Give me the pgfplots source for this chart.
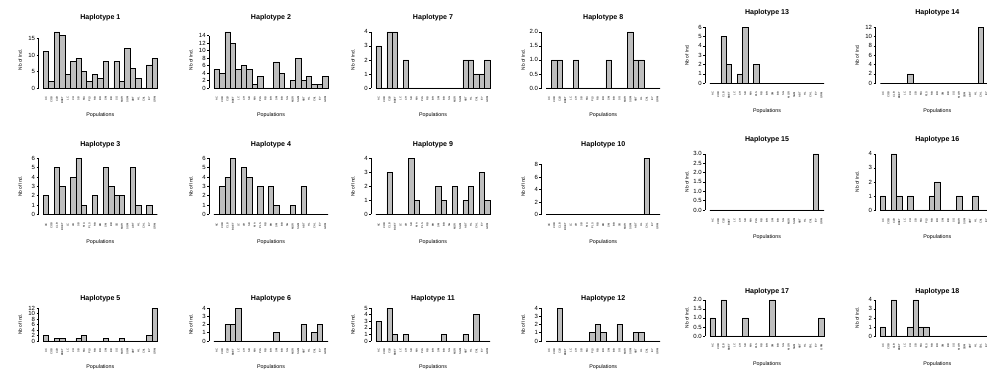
\documentclass[border=0pt]{standalone}
\usepackage{pgfplots}
\usepackage{pgfplotstable}
\pgfplotsset{compat=1.18}
\usepackage{fontspec}
\setmainfont{Liberation Sans}
\definecolor{bargray}{RGB}{190,190,190}

\pgfplotstableread{
pos h1 h2 h3 h4 h5 h6 h7 h8 h9 h10 h11 h12 h13 h14 h15 h16 h17 h18
1  11 5  2 0 2  0 3 0 0 0 3 0 0 0  0 1 1 1
2  2  4  0 3 0  0 0 1 0 0 0 0 0 0  0 0 0 0
3  17 15 5 4 1  2 4 1 3 0 5 4 5 0  0 4 2 4
4  16 12 3 6 1  2 4 0 0 0 1 0 2 0  0 1 0 0
5  4  5  0 0 0  4 0 0 0 0 0 0 0 0  0 0 0 0
6  8  6  4 5 0  0 2 1 0 0 1 0 1 2  0 1 0 1
7  9  5  6 4 1  0 0 0 4 0 0 0 6 0  0 0 1 4
8  5  1  1 0 2  0 0 0 1 0 0 0 0 0  0 0 0 1
9  2  3  0 3 0  0 0 0 0 0 0 1 2 0  0 0 0 1
10 4  0  2 0 0  0 0 0 0 0 0 2 0 0  0 1 0 0
11 3  0  0 3 0  0 0 0 0 0 0 1 0 0  0 2 0 0
12 8  7  5 1 1  1 0 1 2 0 0 0 0 0  0 0 2 0
13 0  4  3 0 0  0 0 0 1 0 1 0 0 0  0 0 0 0
14 8  0  2 0 0  0 0 0 0 0 0 2 0 0  0 0 0 0
15 2  2  2 1 1  0 0 0 2 0 0 0 0 0  0 1 0 0
16 12 8  0 0 0  0 0 2 0 0 0 0 0 0  0 0 0 0
17 6  2  5 3 0  2 2 1 1 0 1 1 0 0  0 0 0 0
18 3  3  1 0 0  0 2 1 2 0 0 1 0 0  0 1 0 0
19 0  1  0 0 0  1 1 0 0 9 4 0 0 12 0 0 0 0
20 7  1  1 0 2  2 1 0 3 0 0 0 0 0  3 0 0 0
21 9  3  0 0 12 0 2 0 1 0 0 0 0 0  0 0 1 0
}\hap

\pgfplotsset{
  hap/.style={
    scale only axis, width=92.4pt, anchor=south west,
    xmin=-0.34, xmax=22.34, clip=false,
    ybar, bar width=1,
    cycle list={{fill=bargray,draw=black,line width=0.6pt}},
    axis x line*=bottom, axis y line*=left,
    x axis line style={draw=none}, y axis line style={draw=none},
    xtick={1,...,21},
    xticklabels={AC,COB,CLB,BDET,LC,CH,SB,MA,PLS,RB,BR,SM,BB,SG,MOR,SGM,ABT,HL,CAL,EY,GRM},
    x tick label style={rotate=90,anchor=east,inner sep=0pt,font=\fontsize{2}{2}\selectfont},
    xticklabel shift=3pt,
    major x tick style={draw=none},
    tick align=outside, major tick length=1.6pt,
    y tick style={line width=0.4pt,black},
    yticklabel style={font=\fontsize{4.5}{5}\selectfont,/pgf/number format/assume math mode=true,inner sep=1pt},
    every axis title/.style={at={(0.5,1)},anchor=base,font=\bfseries\fontsize{5.3}{6}\selectfont},
    xlabel={Populations},
    xlabel style={at={(axis description cs:0.5,0)},anchor=base,yshift=-20pt,font=\fontsize{4}{5}\selectfont},
    ylabel={Nb of Ind.},
    ylabel style={at={(axis description cs:-0.15,0.5)},anchor=center,font=\fontsize{3.6}{4}\selectfont},
  },
  rowA/.style={height=45.4pt,title style={yshift=7.5pt}},
  rowC/.style={height=26.7pt,title style={yshift=5pt},xlabel style={yshift=0.5pt}},
  rowD/.style={height=29.2pt,title style={yshift=4pt},xlabel style={yshift=-1pt}},
  dec/.style={yticklabel style={/pgf/number format/fixed,/pgf/number format/fixed zerofill,/pgf/number format/precision=1}},
}
\newcommand\yline[1]{\draw[line width=0.4pt] (axis cs:-0.34,0) -- (axis cs:-0.34,#1);}

\begin{document}
\begin{tikzpicture}
\path[use as bounding box] (0pt,0pt) rectangle (740.25pt,277.5pt);

% ---------- Row 1 ----------
\begin{axis}[hap,rowA,at={(29.03pt,209.85pt)},ymin=-0.68,ymax=17.68,ytick={0,5,10,15},title={Haplotype 1}]
\addplot table[x=pos,y=h1]{\hap}; \yline{15}
\end{axis}
\begin{axis}[hap,rowA,at={(157.05pt,209.85pt)},ymin=-0.6,ymax=15.6,ytick={0,2,...,14},title={Haplotype 2}]
\addplot table[x=pos,y=h2]{\hap}; \yline{14}
\end{axis}
\begin{axis}[hap,rowA,at={(278.55pt,209.85pt)},ymin=-0.16,ymax=4.16,ytick={0,1,...,4},title={Haplotype 7}]
\addplot table[x=pos,y=h7]{\hap}; \yline{4}
\end{axis}
\begin{axis}[hap,rowA,dec,at={(406.2pt,209.85pt)},ymin=-0.08,ymax=2.08,ytick={0,0.5,...,2},title={Haplotype 8}]
\addplot table[x=pos,y=h8]{\hap}; \yline{2}
\end{axis}
\begin{axis}[hap,rowA,at={(529.05pt,213.38pt)},ymin=-0.24,ymax=6.24,ytick={0,1,...,6},title={Haplotype 13}]
\addplot table[x=pos,y=h13]{\hap}; \yline{6}
\end{axis}
\begin{axis}[hap,rowA,at={(656.78pt,213.38pt)},ymin=-0.48,ymax=12.48,ytick={0,2,...,12},title={Haplotype 14}]
\addplot table[x=pos,y=h14]{\hap}; \yline{12}
\end{axis}

% ---------- Row 2 ----------
\begin{axis}[hap,rowA,at={(29.03pt,114.98pt)},ymin=-0.24,ymax=6.24,ytick={0,1,...,6},title={Haplotype 3}]
\addplot table[x=pos,y=h3]{\hap}; \yline{6}
\end{axis}
\begin{axis}[hap,rowA,at={(157.05pt,114.98pt)},ymin=-0.24,ymax=6.24,ytick={0,1,...,6},title={Haplotype 4}]
\addplot table[x=pos,y=h4]{\hap}; \yline{6}
\end{axis}
\begin{axis}[hap,rowA,at={(278.55pt,114.98pt)},ymin=-0.16,ymax=4.16,ytick={0,1,...,4},title={Haplotype 9}]
\addplot table[x=pos,y=h9]{\hap}; \yline{4}
\end{axis}
\begin{axis}[hap,rowA,at={(406.2pt,114.98pt)},ymin=-0.36,ymax=9.36,ytick={0,2,...,8},title={Haplotype 10}]
\addplot table[x=pos,y=h10]{\hap}; \yline{8}
\end{axis}
\begin{axis}[hap,rowA,dec,at={(529.05pt,118.35pt)},ymin=-0.12,ymax=3.12,ytick={0,0.5,...,3},title={Haplotype 15}]
\addplot table[x=pos,y=h15]{\hap}; \yline{3}
\end{axis}
\begin{axis}[hap,rowA,at={(656.78pt,118.35pt)},ymin=-0.16,ymax=4.16,ytick={0,1,...,4},title={Haplotype 16}]
\addplot table[x=pos,y=h16]{\hap}; \yline{4}
\end{axis}

% ---------- Row 3 ----------
\begin{axis}[hap,rowC,at={(29.03pt,20.78pt)},ymin=-0.48,ymax=12.48,ytick={0,2,...,12},title={Haplotype 5}]
\addplot table[x=pos,y=h5]{\hap}; \yline{12}
\end{axis}
\begin{axis}[hap,rowC,at={(157.05pt,20.78pt)},ymin=-0.16,ymax=4.16,ytick={0,1,...,4},title={Haplotype 6}]
\addplot table[x=pos,y=h6]{\hap}; \yline{4}
\end{axis}
\begin{axis}[hap,rowC,at={(278.55pt,20.78pt)},ymin=-0.2,ymax=5.2,ytick={0,1,...,5},title={Haplotype 11}]
\addplot table[x=pos,y=h11]{\hap}; \yline{5}
\end{axis}
\begin{axis}[hap,rowC,at={(406.2pt,20.78pt)},ymin=-0.16,ymax=4.16,ytick={0,1,...,4},title={Haplotype 12}]
\addplot table[x=pos,y=h12]{\hap}; \yline{4}
\end{axis}
\begin{axis}[hap,rowD,dec,at={(529.05pt,24.45pt)},ymin=-0.08,ymax=2.08,ytick={0,0.5,...,2},title={Haplotype 17}]
\addplot table[x=pos,y=h17]{\hap}; \yline{2}
\end{axis}
\begin{axis}[hap,rowD,at={(656.78pt,24.45pt)},ymin=-0.16,ymax=4.16,ytick={0,1,...,4},title={Haplotype 18}]
\addplot table[x=pos,y=h18]{\hap}; \yline{4}
\end{axis}
\end{tikzpicture}
\end{document}
